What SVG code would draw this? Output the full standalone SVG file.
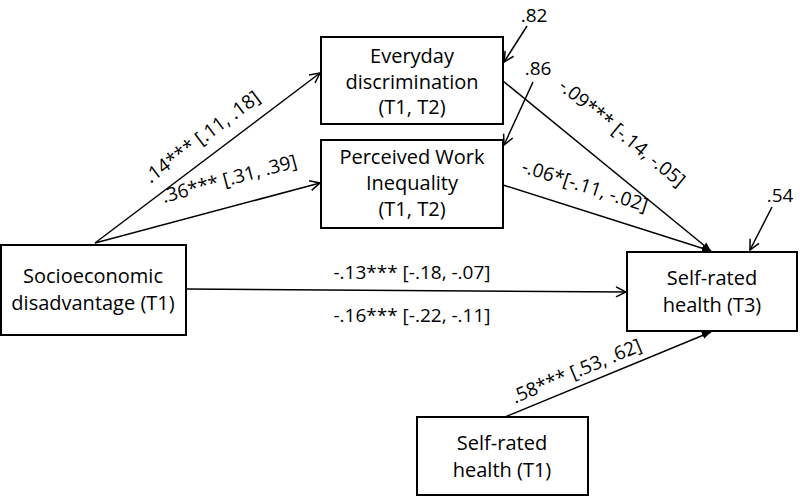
<svg xmlns="http://www.w3.org/2000/svg" width="800" height="497" viewBox="0 0 800 497">
<style>
.box{fill:#fff;stroke:#000;stroke-width:2}
.t{font-family:"Open Sans","Liberation Sans",sans-serif;font-size:20px;fill:#000;text-anchor:middle}
.l{font-family:"Open Sans","Liberation Sans",sans-serif;font-size:19px;fill:#000;text-anchor:middle}
.c{fill:none;stroke:#000;stroke-width:1.5}
</style>
<defs>
<marker id="open" viewBox="0 0 12 12" refX="11" refY="6" markerWidth="12" markerHeight="12" markerUnits="userSpaceOnUse" orient="auto">
<path d="M1,1 L11,6 L1,11" fill="none" stroke="#000" stroke-width="1.5"/>
</marker>
<marker id="fill" viewBox="0 0 10 10" refX="10" refY="5" markerWidth="9" markerHeight="9" markerUnits="userSpaceOnUse" orient="auto">
<path d="M0,1 L10,5 L0,9 Z" fill="#000"/>
</marker>
</defs>
<rect width="800" height="497" fill="#fff"/>
<g id="connectors">
<line class="c" x1="95" y1="243" x2="320" y2="73" marker-end="url(#open)"/>
<line class="c" x1="95" y1="243" x2="320" y2="183" marker-end="url(#open)"/>
<line class="c" x1="503" y1="81" x2="711" y2="251" marker-end="url(#fill)"/>
<line class="c" x1="503" y1="185" x2="711" y2="251" marker-end="url(#fill)"/>
<line class="c" x1="186" y1="289" x2="626" y2="292" marker-end="url(#open)"/>
<line class="c" x1="505" y1="417" x2="711" y2="332" marker-end="url(#fill)"/>
<line class="c" x1="527" y1="26" x2="504" y2="62" marker-end="url(#open)"/>
<line class="c" x1="533" y1="82" x2="504" y2="145" marker-end="url(#open)"/>
<line class="c" x1="772" y1="207" x2="750" y2="250" marker-end="url(#open)"/>
<text class="l" transform="translate(206,142) rotate(-37)">.14*** [.11, .18]</text>
<text class="l" transform="translate(231,185) rotate(-15)">.36*** [.31, .39]</text>
<text class="l" transform="translate(618,138) rotate(39.5)">-.09*** [-.14, -.05]</text>
<text class="l" transform="translate(583,192) rotate(17.8)">-.06*[-.11, -.02]</text>
<text class="l" x="412" y="279">-.13*** [-.18, -.07]</text>
<text class="l" x="412" y="322">-.16*** [-.22, -.11]</text>
<text class="l" transform="translate(579,377) rotate(-22.6)">.58*** [.53, .62]</text>
<text class="l" x="534" y="22">.82</text>
<text class="l" x="538" y="75">.86</text>
<text class="l" x="780" y="202">.54</text>
</g>
<g id="everyday">
<rect class="box" x="321" y="37" width="182" height="87"/>
<text class="t" x="412" y="63">Everyday</text>
<text class="t" x="412" y="89">discrimination</text>
<text class="t" x="412" y="114">(T1, T2)</text>
</g>
<g id="perceived">
<rect class="box" x="321" y="140" width="182" height="88"/>
<text class="t" x="412" y="164">Perceived Work</text>
<text class="t" x="412" y="190">Inequality</text>
<text class="t" x="412" y="216">(T1, T2)</text>
</g>
<g id="ses">
<rect class="box" x="1" y="245" width="185" height="90"/>
<text class="t" x="93" y="283">Socioeconomic</text>
<text class="t" x="93" y="310">disadvantage (T1)</text>
</g>
<g id="srh3">
<rect class="box" x="627" y="252" width="170" height="79"/>
<text class="t" x="712" y="285">Self-rated</text>
<text class="t" x="712" y="312">health (T3)</text>
</g>
<g id="srh1">
<rect class="box" x="417" y="417" width="171" height="78"/>
<text class="t" x="502" y="450">Self-rated</text>
<text class="t" x="502" y="477">health (T1)</text>
</g>
</svg>
